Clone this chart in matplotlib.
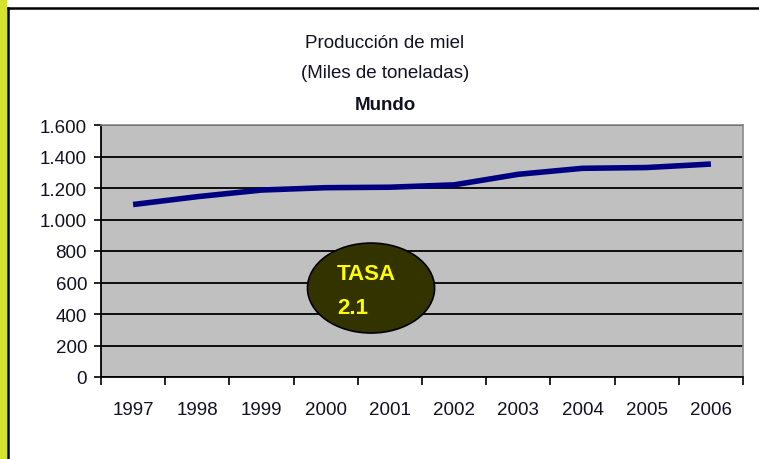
import matplotlib
matplotlib.use("Agg")
import matplotlib.pyplot as plt
from matplotlib.patches import Ellipse, Rectangle
from matplotlib.lines import Line2D
from matplotlib.ticker import FuncFormatter

years = ["1997", "1998", "1999", "2000", "2001", "2002", "2003", "2004", "2005", "2006"]
production = [1095, 1145, 1187, 1202, 1205, 1220, 1287, 1325, 1330, 1352]
y_ticks = [0, 200, 400, 600, 800, 1000, 1200, 1400, 1600]

plt.rcParams['font.family'] = ["Liberation Sans", "DejaVu Sans"]

W, H = 759, 460
fig = plt.figure(figsize=(W / 100, H / 100), dpi=100)
fig.patch.set_facecolor("white")

# frame decorations
fig.patches.append(Rectangle((0, 0), 7 / W, 1, transform=fig.transFigure,
                             facecolor="#d5e22e", edgecolor="none", zorder=0))
fig.lines.append(Line2D([7.5 / W, 7.5 / W], [0, 1 - 9 / H], transform=fig.transFigure,
                        color="black", lw=1.8))
fig.lines.append(Line2D([7.5 / W, 1], [1 - 9 / H, 1 - 9 / H], transform=fig.transFigure,
                        color="black", lw=1.8))

ax = fig.add_axes([101 / W, 1 - 378 / H, 642 / W, 252 / H])
ax.set_facecolor("#c0c0c0")
x = list(range(len(years)))
ax.plot(x, production, color="#000080", lw=4.0, solid_capstyle="butt", zorder=3)

ax.set_xlim(-0.5, len(years) - 0.5)
ax.set_ylim(0, 1600)
ax.set_yticks(y_ticks)
ax.yaxis.set_major_formatter(FuncFormatter(lambda v, p: f"{int(v):,}".replace(",", ".")))
ax.set_xticks(x)
ax.set_xticklabels(years)
ax.set_xticks([i - 0.5 for i in range(len(years) + 1)], minor=True)
ax.tick_params(axis="x", which="major", length=0, pad=17, labelsize=13.5, labelcolor="#111122")
ax.tick_params(axis="x", which="minor", length=6, width=1.2, direction="out", color="black")
ax.tick_params(axis="y", length=5, width=1.2, direction="out", labelsize=13.5, pad=5,
               labelcolor="#111122")

ax.grid(axis="y", color="black", lw=1.3, zorder=1)
for s in ["top", "right"]:
    ax.spines[s].set_color("#8a8a8a")
    ax.spines[s].set_linewidth(1.2)
for s in ["left", "bottom"]:
    ax.spines[s].set_color("black")
    ax.spines[s].set_linewidth(1.3)

# titles
fig.text(385 / W, 1 - 43 / H, "Producción de miel", ha="center", va="center", fontsize=13.5, color="#111122")
fig.text(385 / W, 1 - 74 / H, "(Miles de toneladas)", ha="center", va="center", fontsize=13.5, color="#111122")
fig.text(385 / W, 1 - 106 / H, "Mundo", ha="center", va="center", fontsize=13.5, fontweight="bold", color="#111122")

# ellipse annotation
ax.add_patch(Ellipse((0.4206, 0.353), 0.198, 0.357, transform=ax.transAxes,
                     facecolor="#333300", edgecolor="black", lw=1.2, zorder=5))
ax.text((337 - 101) / 642, (378 - 274) / 252, "TASA", transform=ax.transAxes, ha="left",
        va="center", fontsize=16, fontweight="bold", color="#ffff00", zorder=6)
ax.text((337 - 101) / 642, (378 - 309) / 252, "2.1", transform=ax.transAxes, ha="left",
        va="center", fontsize=16, fontweight="bold", color="#ffff00", zorder=6)

fig.savefig("out.png", dpi=100)
